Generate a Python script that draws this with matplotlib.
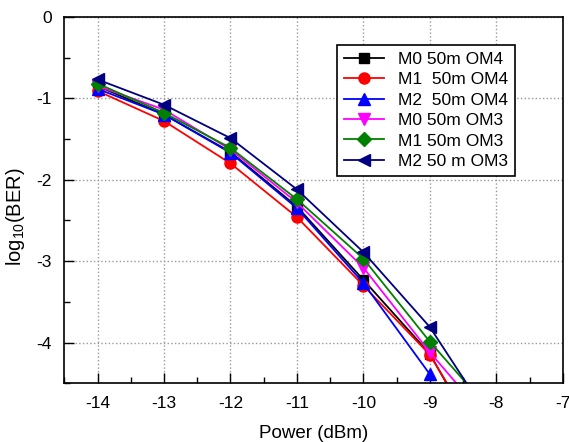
import matplotlib.pyplot as plt
import numpy as np

plt.rcParams['font.family'] = ['Liberation Sans', 'DejaVu Sans']
plt.rcParams['axes.unicode_minus'] = False
plt.rcParams['mathtext.fontset'] = 'custom'
plt.rcParams['mathtext.rm'] = 'Liberation Sans'

power = [-14, -13, -12, -11, -10, -9, -8]
m0_om4 = [-0.85, -1.20, -1.66, -2.33, -3.23, -4.14, -5.58]
m1_om4 = [-0.91, -1.28, -1.80, -2.46, -3.30, -4.15, -5.50]
m2_om4 = [-0.885, -1.20, -1.67, -2.35, -3.27, -4.39]
m0_om3 = [-0.85, -1.14, -1.63, -2.28, -3.08, -4.12, -5.07]
m1_om3 = [-0.82, -1.18, -1.61, -2.24, -2.97, -3.99, -4.92]
m2_om3 = [-0.77, -1.08, -1.49, -2.12, -2.89, -3.81, -5.06]

labels = ['M0 50m OM4', 'M1  50m OM4', 'M2  50m OM4',
          'M0 50m OM3', 'M1 50m OM3', 'M2 50 m OM3']
series = [m0_om4, m1_om4, m2_om4, m0_om3, m1_om3, m2_om3]
colors = ['black', 'red', 'blue', 'magenta', 'green', 'navy']
markers = ['s', 'o', '^', 'v', 'D', '<']
sizes = [7, 8, 8, 8, 7, 9]

fig = plt.figure(figsize=(5.69, 4.42), dpi=100)
ax = fig.add_axes([0.113, 0.133, 0.876, 0.829])

for y, lab, c, m, s in zip(series, labels, colors, markers, sizes):
    ax.plot(power[:len(y)], y, color=c, marker=m, markersize=s, lw=1.3, label=lab)

ax.set_xlim(-14.5, -7)
ax.set_ylim(-4.5, 0)
ax.set_xticks(np.arange(-14, -6.5, 1))
ax.set_xticks(np.arange(-14.5, -6.9, 0.5), minor=True)
ax.set_yticks([-4, -3, -2, -1, 0])
ax.set_yticks(np.arange(-4.5, 0.01, 0.5), minor=True)
ax.tick_params(which='both', direction='in', labelsize=12.5)
ax.tick_params(axis='x', which='major', pad=9)
ax.tick_params(axis='y', which='major', pad=9)
ax.tick_params(which='major', length=7, width=1)
ax.tick_params(which='minor', length=4, width=1)
ax.grid(True, which='major', linestyle=':', color='#999999', lw=1)
for sp in ax.spines.values():
    sp.set_linewidth(1.2)

ax.set_xlabel('Power (dBm)', fontsize=13.5, labelpad=10)
ax.set_ylabel('log$_{10}$(BER)', fontsize=14.5)
ax.yaxis.set_label_coords(-0.075, 0.455)

leg = ax.legend(loc='upper right', bbox_to_anchor=(0.904, 0.923), borderaxespad=0,
                fontsize=12.5, fancybox=False, edgecolor='black', framealpha=1,
                handlelength=2.3, labelspacing=0.3, borderpad=0.4)
leg.get_frame().set_linewidth(1.2)

fig.savefig('out.png', dpi=100)
